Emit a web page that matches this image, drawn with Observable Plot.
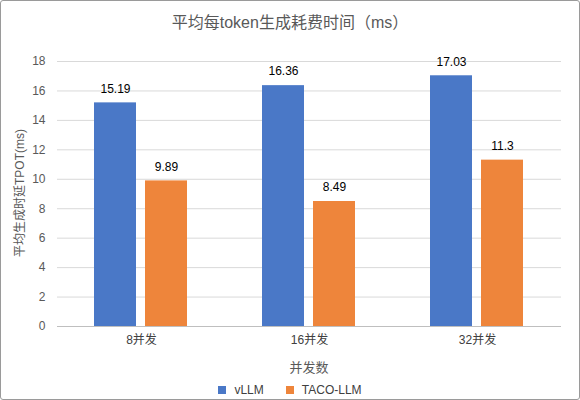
<!DOCTYPE html>
<html><head><meta charset="utf-8">
<script src="https://cdn.jsdelivr.net/npm/d3@7"></script>
<script src="https://cdn.jsdelivr.net/npm/@observablehq/plot@0.6"></script>
<style>
body{margin:0;background:#fff;font-family:"Liberation Sans","Noto Sans CJK SC",sans-serif;}
#wrap{position:relative;width:580px;height:400px;overflow:hidden;}
#frame{position:absolute;left:0;top:0;width:580px;height:400px;box-sizing:border-box;border:1px solid #9a9a9a;border-radius:3px;pointer-events:none;}
#title{height:45px;line-height:46px;text-align:center;font-size:16px;color:#595959;}
#legend{display:flex;justify-content:center;gap:22px;font-size:12px;color:#404040;height:20px;align-items:center;}
.sw{display:inline-block;width:8px;height:8px;margin-right:8px;vertical-align:middle;position:relative;top:-1px}
#ylab{position:absolute;left:18px;top:193px;transform:translate(-50%,-50%) rotate(-90deg);white-space:nowrap;font-size:12px;color:#595959;}
#xlab{position:absolute;left:57px;width:504px;top:357px;text-align:center;font-size:13px;color:#595959;}
</style></head>
<body>
<div id="wrap">
<div id="title">平均每token生成耗费时间（ms）</div>
<div id="chart"></div>
<div id="legend"></div>
<div id="ylab">平均生成时延TPOT(ms)</div>
<div id="xlab">并发数</div>
<div id="frame"></div>
</div>
<script>
const categories = ["8并发", "16并发", "32并发"];
const series = ["vLLM", "TACO-LLM"];
const vllmValues = [15.19, 16.36, 17.03];
const tacoValues = [9.89, 8.49, 11.3];
const labelsText = [["15.19", "16.36", "17.03"], ["9.89", "8.49", "11.3"]];
const colors = ["#4A78C7", "#EE853B"];
const yTicks = [0, 2, 4, 6, 8, 10, 12, 14, 16, 18];

const data = [];
categories.forEach((c, i) => {
  data.push({cat: c, s: series[0], v: vllmValues[i], t: labelsText[0][i]});
  data.push({cat: c, s: series[1], v: tacoValues[i], t: labelsText[1][i]});
});

const chart = Plot.plot({
  width: 580,
  height: 335,
  marginLeft: 57,
  marginRight: 19,
  marginTop: 16,
  marginBottom: 54,
  style: {fontFamily: '"Liberation Sans","Noto Sans CJK SC",sans-serif', fontSize: "12px", color: "#595959"},
  fx: {domain: categories, padding: 0, label: null},
  x: {domain: series, paddingInner: 0.176, paddingOuter: 0.725, axis: null},
  y: {domain: [0, 18], ticks: yTicks, label: null},
  color: {domain: series, range: colors},
  marks: [
    Plot.gridY(yTicks, {stroke: "#d9d9d9", strokeOpacity: 1, facet: "exclude"}),
    Plot.axisY(yTicks, {tickSize: 0, tickPadding: 12, fontSize: 12, fill: "#595959", label: null}),
    Plot.axisFx({anchor: "bottom", tickSize: 0, tickPadding: 9, fontSize: 12, fill: "#404040", label: null}),
    Plot.barY(data, {fx: "cat", x: "s", y: "v", fill: "s"}),
    Plot.ruleY([0], {stroke: "#bfbfbf", strokeWidth: 1}),
    Plot.text(data, {fx: "cat", x: "s", y: "v", text: "t", dy: -14, fill: "#000", fontSize: 12})
  ]
});
document.getElementById("chart").appendChild(chart);

const lg = document.getElementById("legend");
series.forEach((s, i) => {
  const el = document.createElement("span");
  el.innerHTML = `<span class="sw" style="background:${colors[i]}"></span>${s}`;
  lg.appendChild(el);
});
</script>
</body></html>
